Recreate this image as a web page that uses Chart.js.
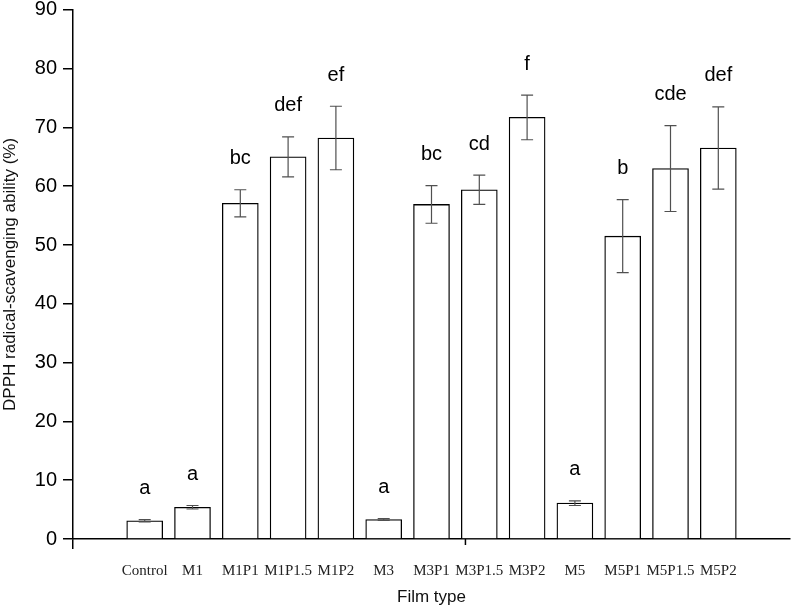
<!DOCTYPE html>
<html>
<head>
<meta charset="utf-8">
<script src="https://cdn.jsdelivr.net/npm/chart.js@4"></script>
<style>
html,body{margin:0;padding:0;background:#fff;}
#wrap{width:791px;height:609px;position:relative;}
</style>
</head>
<body>
<div id="wrap"><canvas id="c" width="791" height="609"></canvas></div>
<script>
const categories = ['Control','M1','M1P1','M1P1.5','M1P2','M3','M3P1','M3P1.5','M3P2','M5','M5P1','M5P1.5','M5P2'];
const means = [3.1, 5.4, 57.1, 65.0, 68.2, 3.3, 56.9, 59.4, 71.7, 6.1, 51.5, 63.0, 66.5];
const sds = [0.2, 0.3, 2.3, 3.4, 5.4, 0.15, 3.2, 2.5, 3.8, 0.4, 6.2, 7.3, 7.0];
const letters = ['a','a','bc','def','ef','a','bc','cd','f','a','b','cde','def'];
const yTicks = [0,10,20,30,40,50,60,70,80,90];

const errPlugin = {
  id: 'errbars',
  afterDatasetsDraw(chart) {
    const ctx = chart.ctx;
    const xs = chart.scales.x, ys = chart.scales.y;
    ctx.save();
    means.forEach((m, i) => {
      const px = xs.getPixelForValue(i + 1);
      const top = ys.getPixelForValue(m + sds[i]);
      const bot = ys.getPixelForValue(m - sds[i]);
      ctx.strokeStyle = '#505050';
      ctx.lineWidth = 1.2;
      ctx.beginPath();
      ctx.moveTo(px, top); ctx.lineTo(px, bot);
      ctx.moveTo(px - 6, top); ctx.lineTo(px + 6, top);
      ctx.moveTo(px - 6, bot); ctx.lineTo(px + 6, bot);
      ctx.stroke();
      ctx.fillStyle = '#000';
      ctx.font = '20px "Liberation Sans", Arial, sans-serif';
      ctx.textAlign = 'center';
      ctx.textBaseline = 'middle';
      ctx.fillText(letters[i], px, top - 31);
    });
    // small stray x-axis tick as in the original
    const tx = xs.getPixelForValue(7.71);
    ctx.strokeStyle = '#000';
    ctx.lineWidth = 1.5;
    ctx.beginPath();
    ctx.moveTo(tx, xs.top); ctx.lineTo(tx, xs.top + 6);
    ctx.stroke();
    ctx.restore();
  }
};

new Chart(document.getElementById('c'), {
  type: 'bar',
  data: {
    datasets: [{
      data: means.map((v, i) => ({x: i + 1, y: v})),
      backgroundColor: '#ffffff',
      borderColor: '#000000',
      borderWidth: 1.3,
      barThickness: 36
    }]
  },
  options: {
    responsive: false,
    animation: false,
    layout: {padding: {top: 9, right: 1, left: 0, bottom: 0}},
    plugins: {legend: {display: false}, tooltip: {enabled: false}},
    scales: {
      x: {
        type: 'linear',
        min: 0, max: 14,
        afterBuildTicks(scale) {
          scale.ticks = Array.from({length: 15}, (_, k) => ({value: k}));
        },
        afterFit(scale) { scale.height = 70; },
        ticks: {
          autoSkip: false,
          maxRotation: 0,
          padding: 13,
          color: '#222',
          font: {family: '"Liberation Serif", "Times New Roman", serif', size: 15},
          callback: (v) => (v >= 1 && v <= categories.length) ? categories[v - 1] : ''
        },
        grid: {
          drawOnChartArea: false,
          tickLength: 10,
          lineWidth: 1.5,
          color: (c) => (c.tick && c.tick.value === 0) ? '#000' : 'rgba(0,0,0,0)'
        },
        border: {display: true, color: '#000', width: 1.5},
        title: {
          display: true,
          text: 'Film type',
          color: '#111',
          font: {family: '"Liberation Sans", Arial, sans-serif', size: 17},
          padding: {top: 0, bottom: 1}
        }
      },
      y: {
        min: 0, max: 90,
        afterBuildTicks(scale) { scale.ticks = yTicks.map(v => ({value: v})); },
        afterFit(scale) { scale.width = 73; },
        ticks: {
          padding: 6,
          color: '#000',
          font: {family: '"Liberation Sans", Arial, sans-serif', size: 20, lineHeight: 0.38}
        },
        grid: {
          drawOnChartArea: false,
          tickLength: 10,
          lineWidth: 1.5,
          color: '#000'
        },
        border: {display: true, color: '#000', width: 1.5},
        title: {
          display: true,
          text: 'DPPH radical-scavenging ability (%)',
          color: '#111',
          font: {family: '"Liberation Sans", Arial, sans-serif', size: 17},
          padding: {top: 0, bottom: 0}
        }
      }
    }
  },
  plugins: [errPlugin]
});
</script>
</body>
</html>
